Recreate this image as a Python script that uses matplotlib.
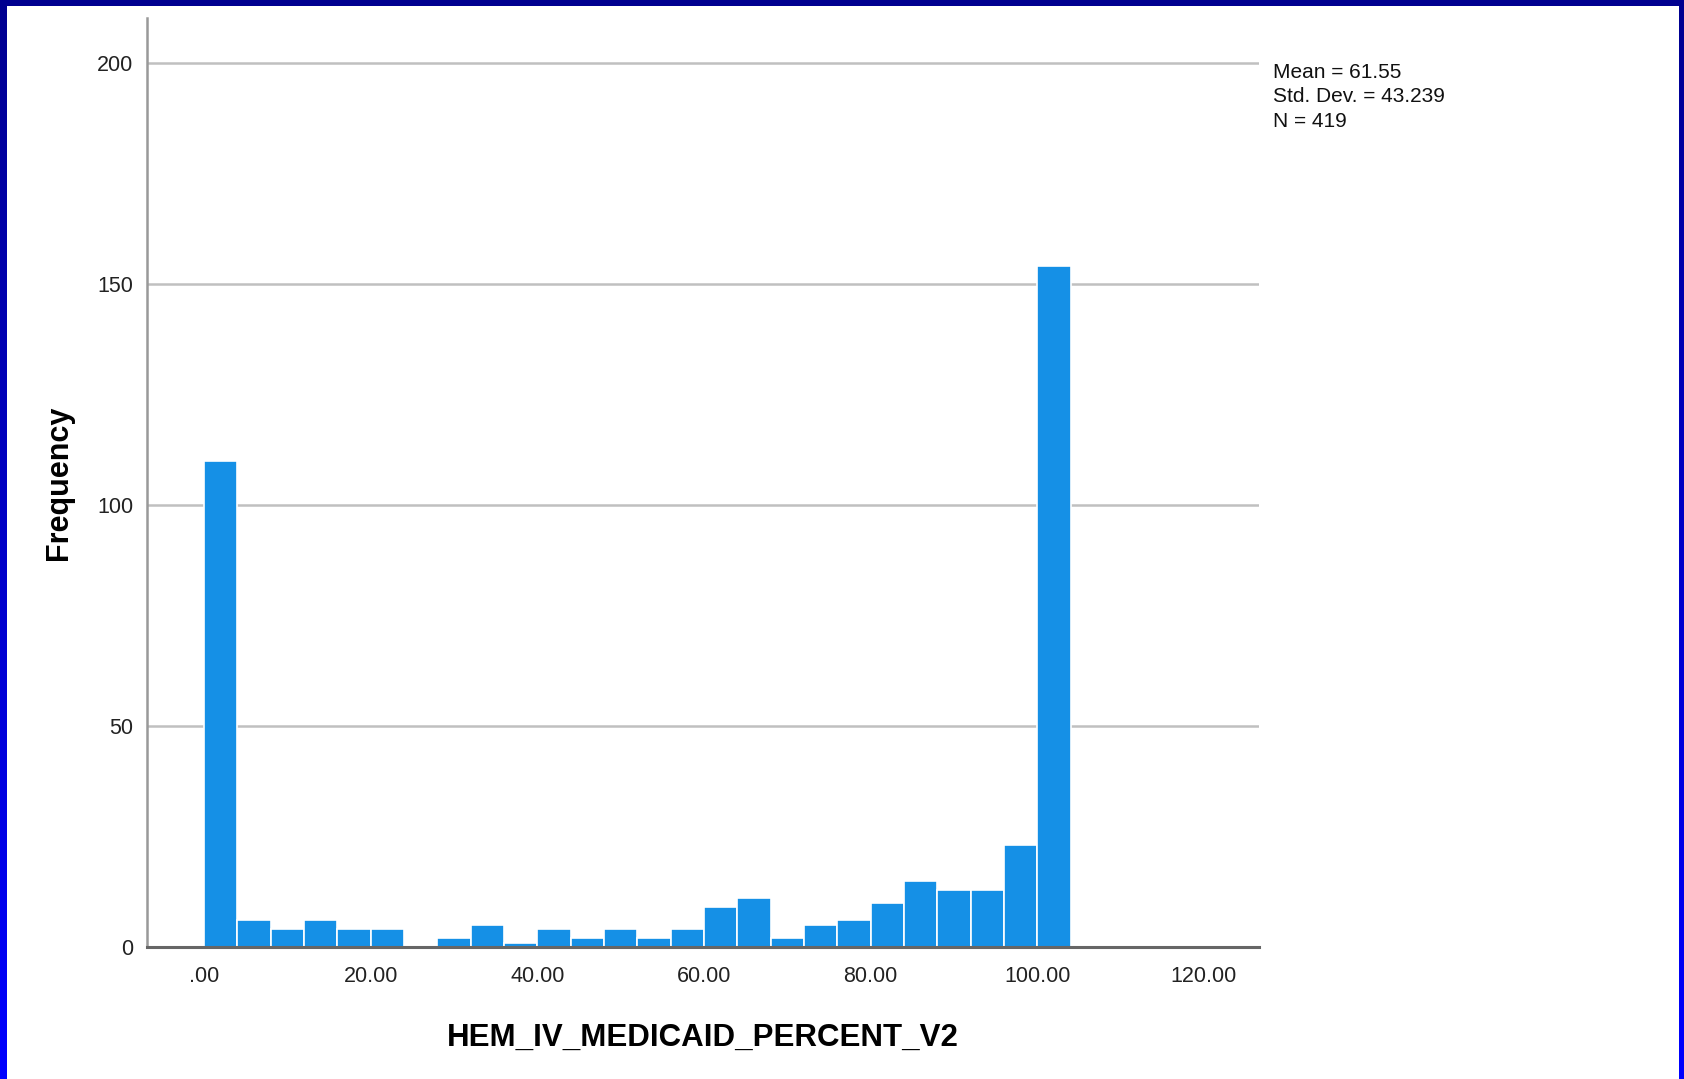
import numpy as np
import matplotlib
matplotlib.use("Agg")
import matplotlib.pyplot as plt
from matplotlib.patches import Rectangle
from matplotlib.colors import LinearSegmentedColormap

plt.rcParams['font.family'] = ['Liberation Sans', 'DejaVu Sans']

# 直方图数据（每个 bin 宽 4）
bin_start = 0.0
bin_width = 4.0
counts = [110, 6, 4, 6, 4, 4, 0, 2, 5, 1, 4, 2, 4, 2, 4,
          9, 11, 2, 5, 6, 10, 15, 13, 13, 23, 154]
x_ticks = [0, 20, 40, 60, 80, 100, 120]
x_ticklabels = ['.00', '20.00', '40.00', '60.00', '80.00', '100.00', '120.00']
y_ticks = [0, 50, 100, 150, 200]
stats_lines = ['Mean = 61.55', 'Std. Dev. = 43.239', 'N = 419']

W, H = 1684, 1079
fig = plt.figure(figsize=(W / 100, H / 100), dpi=100)

# 蓝色渐变边框
bg = fig.add_axes([0, 0, 1, 1], zorder=-10)
grad = np.linspace(0, 1, 256).reshape(-1, 1)
cmap = LinearSegmentedColormap.from_list('border', ['#000090', '#0000ff'])
bg.imshow(grad, aspect='auto', cmap=cmap, extent=[0, 1, 0, 1], origin='upper')
bg.add_patch(Rectangle((7 / W, 0), (1679 - 7) / W, (H - 6) / H,
                       facecolor='white', edgecolor='none', transform=bg.transAxes))
bg.set_xlim(0, 1)
bg.set_ylim(0, 1)
bg.axis('off')

ax = fig.add_axes([147 / W, 132 / H, (1259 - 147) / W, (947 - 18) / H])
ax.set_facecolor('none')

lefts = bin_start + bin_width * np.arange(len(counts))
ax.bar(lefts, counts, width=bin_width, align='edge', color='#1590e6',
       edgecolor='white', linewidth=1.2, zorder=3)

ax.set_xlim(-6.84, 126.6)
ax.set_ylim(0, 210.2)
ax.set_yticks(y_ticks)
ax.set_xticks(x_ticks)
ax.set_xticklabels(x_ticklabels)
ax.tick_params(axis='both', length=0, labelsize=15.5, colors='#222222')
ax.tick_params(axis='x', pad=14)
ax.tick_params(axis='y', pad=10)

for y in y_ticks[1:]:
    ax.axhline(y, color='#c0c0c0', linewidth=1.8, zorder=1)

ax.spines['top'].set_visible(False)
ax.spines['right'].set_visible(False)
ax.spines['left'].set_color('#999999')
ax.spines['left'].set_linewidth(1.8)
ax.spines['bottom'].set_color('#666666')
ax.spines['bottom'].set_linewidth(2.2)
ax.spines['bottom'].set_zorder(4)

ax.set_xlabel('HEM_IV_MEDICAID_PERCENT_V2', fontsize=22.5, fontweight='bold')
ax.xaxis.set_label_coords(0.5, -91 / 929, transform=ax.transAxes)
ax.xaxis.label.set_va('center')
ax.set_ylabel('Frequency', fontsize=22, fontweight='bold')
ax.yaxis.set_label_coords(-88 / 1112, 0.5, transform=ax.transAxes)
ax.yaxis.label.set_va('center')

fig.text(1273 / W, 1 - 63 / H, '\n'.join(stats_lines), fontsize=15,
         va='top', ha='left', linespacing=1.36, color='#111111')

fig.savefig('out.png', dpi=100)
